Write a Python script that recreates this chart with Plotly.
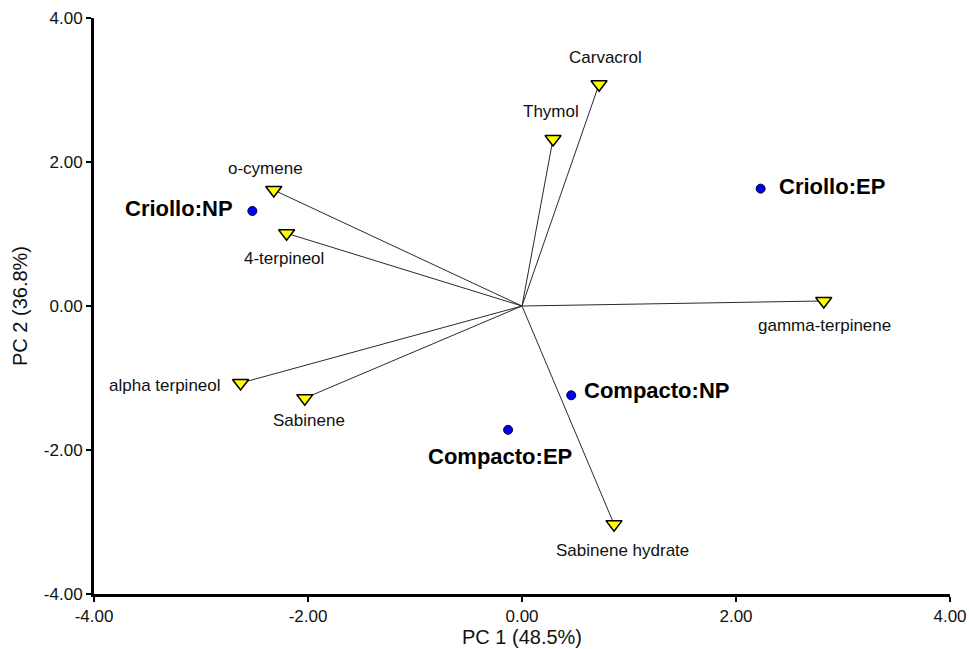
import plotly.graph_objects as go

# Sample scores (PC1, PC2)
samples = ["Criollo:NP", "Criollo:EP", "Compacto:NP", "Compacto:EP"]
sample_pc1 = [-2.52, 2.23, 0.46, -0.13]
sample_pc2 = [1.32, 1.63, -1.24, -1.72]

# Variable loadings (PC1, PC2)
variables = ["Carvacrol", "Thymol", "o-cymene", "4-terpineol", "alpha terpineol",
             "Sabinene", "gamma-terpinene", "Sabinene hydrate"]
var_pc1 = [0.72, 0.29, -2.32, -2.20, -2.63, -2.03, 2.82, 0.86]
var_pc2 = [3.08, 2.32, 1.61, 1.01, -1.07, -1.28, 0.07, -3.03]

tick_vals = [-4, -2, 0, 2, 4]
tick_text = ["-4.00", "-2.00", "0.00", "2.00", "4.00"]

FONT = "Liberation Sans, Arial, sans-serif"

# label placement (pixel shifts and anchors)
var_label_pos = {
    "Carvacrol": (6, 27, "center"),
    "Thymol": (-2, 27, "center"),
    "o-cymene": (-8, 22, "center"),
    "4-terpineol": (-3, -25, "center"),
    "alpha terpineol": (-18, -2, "right"),
    "Sabinene": (4, -22, "center"),
    "gamma-terpinene": (1, -25, "center"),
    "Sabinene hydrate": (8, -26, "center"),
}
sample_label_pos = {
    "Criollo:NP": (-17, 2, "right"),
    "Criollo:EP": (16, 2, "left"),
    "Compacto:NP": (11, 5, "left"),
    "Compacto:EP": (-8, -27, "center"),
}

fig = go.Figure()

for name, x, y in zip(variables, var_pc1, var_pc2):
    fig.add_trace(go.Scatter(x=[0, x], y=[0, y], mode="lines",
                             line=dict(color="#2a2a2a", width=1),
                             hoverinfo="skip", showlegend=False))

fig.add_trace(go.Scatter(x=var_pc1, y=var_pc2, mode="markers", text=variables,
                         marker=dict(symbol="triangle-down", size=14, color="#ffff00",
                                     line=dict(color="black", width=1.5)),
                         showlegend=False))

fig.add_trace(go.Scatter(x=sample_pc1, y=sample_pc2, mode="markers", text=samples,
                         marker=dict(symbol="circle", size=9, color="#0000ee",
                                     line=dict(color="#000033", width=1)),
                         showlegend=False))

for name, x, y in zip(variables, var_pc1, var_pc2):
    dx, dy, anchor = var_label_pos[name]
    fig.add_annotation(x=x, y=y, text=name, showarrow=False, xshift=dx, yshift=dy,
                       xanchor=anchor, yanchor="middle",
                       font=dict(family=FONT, size=17, color="#111111"))

for name, x, y in zip(samples, sample_pc1, sample_pc2):
    dx, dy, anchor = sample_label_pos[name]
    fig.add_annotation(x=x, y=y, text="<b>" + name + "</b>", showarrow=False,
                       xshift=dx, yshift=dy, xanchor=anchor, yanchor="middle",
                       font=dict(family=FONT, size=22, color="black"))

axis_common = dict(range=[-4, 4], tickvals=tick_vals, ticktext=tick_text,
                   showgrid=False, zeroline=False, showline=True, linecolor="black",
                   linewidth=3, ticks="outside", ticklen=5, tickwidth=2, tickcolor="black",
                   automargin=False,
                   tickfont=dict(family=FONT, size=17, color="#111111"))

fig.update_xaxes(**axis_common,
                 title=dict(text="PC 1 (48.5%)", standoff=3,
                            font=dict(family=FONT, size=20, color="#111111")))
fig.update_yaxes(**axis_common,
                 title=dict(text="PC 2 (36.8%)", standoff=11,
                            font=dict(family=FONT, size=20, color="#111111")))

fig.update_layout(width=969, height=649, plot_bgcolor="white", paper_bgcolor="white",
                  margin=dict(l=94, r=19, t=18, b=55))

fig.write_html("out.html")
